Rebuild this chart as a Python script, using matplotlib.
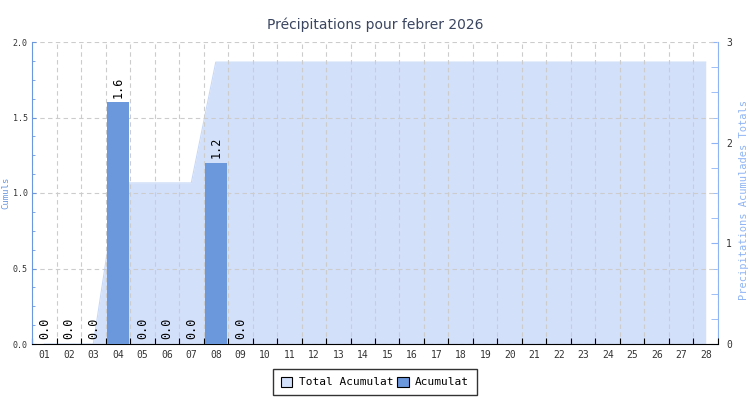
import matplotlib
matplotlib.use("Agg")
import matplotlib.pyplot as plt
from matplotlib.patches import Patch
from matplotlib.ticker import MultipleLocator, FixedLocator, NullFormatter

days = [f"{d:02d}" for d in range(1, 29)]
daily_days = ["01", "02", "03", "04", "05", "06", "07", "08", "09"]
daily_vals = [0.0, 0.0, 0.0, 1.6, 0.0, 0.0, 0.0, 1.2, 0.0]
total_vals = [0.0, 0.0, 0.0, 1.6, 1.6, 1.6, 1.6, 2.8, 2.8, 2.8, 2.8, 2.8, 2.8, 2.8,
              2.8, 2.8, 2.8, 2.8, 2.8, 2.8, 2.8, 2.8, 2.8, 2.8, 2.8, 2.8, 2.8, 2.8]

title = "Précipitations pour febrer 2026"
left_label = "Cumuls"
right_label = "Precipitations Acumulades Totals"

mono = "DejaVu Sans Mono"
bar_color = "#6b97dd"
area_color = "#d3e0fa"
right_color = "#8fb4f5"

fig = plt.figure(figsize=(7.5, 4), dpi=100)
ax = fig.add_axes([0.0427, 0.14, 0.9146, 0.755])
ax2 = ax.twinx()
ax.set_zorder(ax2.get_zorder() + 1)
ax.patch.set_visible(False)

x_all = list(range(len(days)))
ax2.fill_between(x_all, total_vals, 0, color=area_color, linewidth=0, zorder=1)
ax2.plot(x_all, total_vals, color="#c8d9f7", linewidth=0.8, zorder=2)
ax2.set_ylim(0, 3)
ax2.yaxis.set_major_locator(MultipleLocator(1))
ax2.yaxis.set_minor_locator(MultipleLocator(0.25))

x_d = [days.index(d) for d in daily_days]
ax.bar(x_d, daily_vals, width=0.9, color=bar_color, zorder=3)
for xi, v in zip(x_d, daily_vals):
    ax.text(xi, v + 0.03, f"{v:.1f}", rotation=90, ha="center", va="bottom",
            fontsize=8.5, family=mono, color="black", zorder=4)

ax.set_xlim(-0.5, len(days) - 0.5)
ax.set_ylim(0, 2)
ax.yaxis.set_major_locator(MultipleLocator(0.5))
ax.yaxis.set_minor_locator(MultipleLocator(0.125))
ax.yaxis.set_major_formatter(matplotlib.ticker.FormatStrFormatter("%.1f"))

bounds = [i - 0.5 for i in range(len(days) + 1)]
ax.xaxis.set_major_locator(FixedLocator(bounds))
ax.xaxis.set_major_formatter(NullFormatter())
ax.xaxis.set_minor_locator(FixedLocator(x_all))
ax.set_xticklabels(days, minor=True)
ax.tick_params(axis="x", which="major", direction="in", length=4, color="black")
ax.tick_params(axis="x", which="minor", length=0, labelsize=7, labelcolor="#333333", pad=4)
for lab in ax.get_xticklabels(minor=True):
    lab.set_family(mono)

ax.tick_params(axis="y", which="major", direction="in", length=3, color=bar_color,
               labelsize=6, labelcolor="#333333", pad=3)
ax.tick_params(axis="y", which="minor", direction="in", length=2, color=bar_color)
for lab in ax.get_yticklabels():
    lab.set_family(mono)
ax2.tick_params(axis="y", which="major", direction="in", length=5, color=right_color,
                labelsize=7, labelcolor="#333333", pad=6)
ax2.tick_params(axis="y", which="minor", direction="in", length=5, color=right_color)
for lab in ax2.get_yticklabels():
    lab.set_family(mono)

ax.grid(True, which="major", axis="both", linestyle=(0, (4, 3)), color="#cccccc", linewidth=0.8)
for gl in ax.get_xgridlines() + ax.get_ygridlines():
    gl.set_zorder(2)

for a in (ax, ax2):
    a.spines["top"].set_visible(False)
ax.spines["left"].set_color(bar_color)
ax.spines["bottom"].set_color("black")
ax.spines["right"].set_visible(False)
ax2.spines["left"].set_visible(False)
ax2.spines["bottom"].set_visible(False)
ax2.spines["right"].set_color(right_color)

fig.text(5.5 / 750, 1 - 193 / 400, left_label, rotation=90, ha="center", va="center",
         color=bar_color, fontsize=6.5, family=mono)
fig.text(744 / 750, 1 - 200 / 400, right_label, rotation=90, ha="center", va="center",
         color=right_color, fontsize=7.5, family=mono)

fig.suptitle(title, y=0.955, fontsize=10, color="#3a4560", family="DejaVu Sans")

handles = [Patch(facecolor=area_color, edgecolor="black", linewidth=0.8),
           Patch(facecolor=bar_color, edgecolor="black", linewidth=0.8)]
leg = fig.legend(handles, ["Total Acumulat", "Acumulat"], loc="center",
                 bbox_to_anchor=(0.5, 0.045), ncol=2, fancybox=False,
                 edgecolor="black", prop={"family": mono, "size": 8},
                 handlelength=1.0, handleheight=1.0, handletextpad=0.6,
                 columnspacing=0.4, borderpad=0.7)
leg.get_frame().set_linewidth(1.0)

fig.savefig("out.png", dpi=100)
